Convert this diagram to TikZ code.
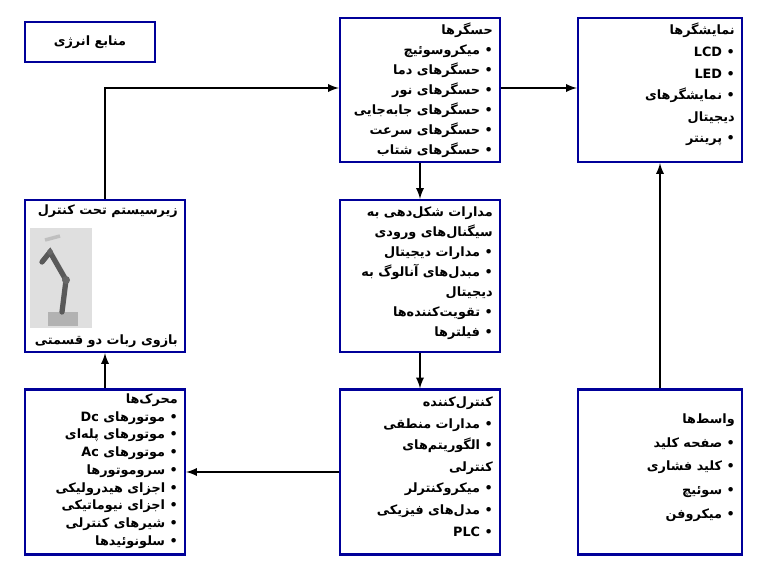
\documentclass[tikz,border=0pt]{standalone}
\usepackage{fontspec}
\setmainfont{DejaVu Sans}[Script=Arabic]
\TeXXeTstate=1
\newcommand{\RL}[1]{\beginR #1\endR}
\newcommand{\BL}[1]{\RL{#1}\ •}
\begin{document}
\begin{tikzpicture}[x=0.02cm,y=-0.02cm,
 box/.style={draw=blue!60!black,line width=1.3pt,inner sep=0pt},
 txt/.style={anchor=north east,align=right,font=\fontsize{7.3}{11.3}\selectfont\bfseries,inner sep=0pt},
 arr/.style={-latex,line width=1.1pt}]
\useasboundingbox (0,0) rectangle (760,572);
\node[box,minimum width=130*0.02cm,minimum height=40*0.02cm] (energy) at (90,42) {};
\node[font=\fontsize{7.3}{9}\selectfont\bfseries] (energyt) at (energy) {\RL{منابع انرژی}};
\node[box,minimum width=160*0.02cm,minimum height=144*0.02cm] (sens) at (420,90) {};
\node[txt] (senst) at ([xshift=-0.16cm,yshift=-0.12cm]sens.north east) {\RL{حسگرها}\hspace{1.1em}\\\BL{میکروسوئیچ}\\\BL{حسگرهای دما}\\\BL{حسگرهای نور}\\\BL{حسگرهای جابه‌جایی}\\\BL{حسگرهای سرعت}\\\BL{حسگرهای شتاب}};
\node[box,minimum width=164*0.02cm,minimum height=144*0.02cm] (disp) at (660,90) {};
\node[txt,font=\fontsize{7.3}{12.3}\selectfont\bfseries] (dispt) at ([xshift=-0.16cm,yshift=-0.12cm]disp.north east) {\RL{نمایشگرها}\\LCD\ •\\LED\ •\\\BL{نمایشگرهای}\\\RL{دیجیتال}\hspace{1.1em}\\\BL{پرینتر}};
\node[box,minimum width=160*0.02cm,minimum height=152*0.02cm] (sig) at (420,276) {};
\node[txt] (sigt) at ([xshift=-0.16cm,yshift=-0.16cm]sig.north east) {\RL{مدارات شکل‌دهی به}\hspace{1.1em}\\\RL{سیگنال‌های ورودی}\hspace{1.1em}\\\BL{مدارات دیجیتال}\\\BL{مبدل‌های آنالوگ به}\\\RL{دیجیتال}\hspace{1.1em}\\\BL{تقویت‌کننده‌ها}\\\BL{فیلترها}};
\node[box,minimum width=160*0.02cm,minimum height=152*0.02cm] (sub) at (105,276) {};
\node[txt] (subt) at ([xshift=-0.16cm,yshift=-0.12cm]sub.north east) {\RL{زیرسیستم تحت کنترل}};
\node[txt,anchor=south east] (subb) at ([xshift=-0.16cm,yshift=0.1cm]sub.south east) {\RL{بازوی ربات دو قسمتی}};
% robot picture
\fill[gray!25] (30,228) rectangle (92,328);
\fill[gray!60] (48,312) rectangle (78,326);
\draw[gray!70!black,line width=3pt,line cap=round] (62,312) -- (66,280) -- (50,252) -- (42,262);
\draw[gray!50,line width=2pt] (45,240) -- (60,236);
\fill[gray!80!black] (66,280) circle (4);
\fill[gray!80!black] (50,252) circle (3);
\node[box,minimum width=160*0.02cm,minimum height=165*0.02cm] (ctrl) at (420,472) {};
\node[txt,font=\fontsize{7.3}{12.3}\selectfont\bfseries] (ctrlt) at ([xshift=-0.16cm,yshift=-0.16cm]ctrl.north east) {\RL{کنترل‌کننده}\hspace{1.1em}\\\BL{مدارات منطقی}\\\BL{الگوریتم‌های}\\\RL{کنترلی}\hspace{1.1em}\\\BL{میکروکنترلر}\\\BL{مدل‌های فیزیکی}\\PLC\ •};
\node[box,minimum width=164*0.02cm,minimum height=165*0.02cm] (intf) at (660,472) {};
\node[txt,font=\fontsize{7.3}{13.5}\selectfont\bfseries] (intft) at ([xshift=-0.16cm,yshift=-0.5cm]intf.north east) {\RL{واسط‌ها}\hspace{1.1em}\\\BL{صفحه کلید}\\\BL{کلید فشاری}\\\BL{سوئیچ}\\\BL{میکروفن}};
\node[box,minimum width=160*0.02cm,minimum height=165*0.02cm] (act) at (105,472) {};
\node[txt,font=\fontsize{7.3}{10.1}\selectfont\bfseries] (actt) at ([xshift=-0.16cm,yshift=-0.1cm]act.north east) {\RL{محرک‌ها}\hspace{1.1em}\\\BL{موتورهای Dc}\\\BL{موتورهای پله‌ای}\\\BL{موتورهای Ac}\\\BL{سروموتورها}\\\BL{اجزای هیدرولیکی}\\\BL{اجزای نیوماتیکی}\\\BL{شیرهای کنترلی}\\\BL{سلونوئیدها}};
\coordinate (c1) at (105,88);
\draw[arr] (sub.north) -- (c1) -- (sens.west |- c1);
\draw[arr] (sens.east |- c1) -- (disp.west |- c1);
\draw[arr] (sens.south) -- (sig.north);
\draw[arr] (sig.south) -- (ctrl.north);
\draw[arr] (ctrl.west) -- (act.east);
\draw[arr] (act.north) -- (sub.south);
\draw[arr] (intf.north) -- (disp.south);
\end{tikzpicture}
\end{document}
